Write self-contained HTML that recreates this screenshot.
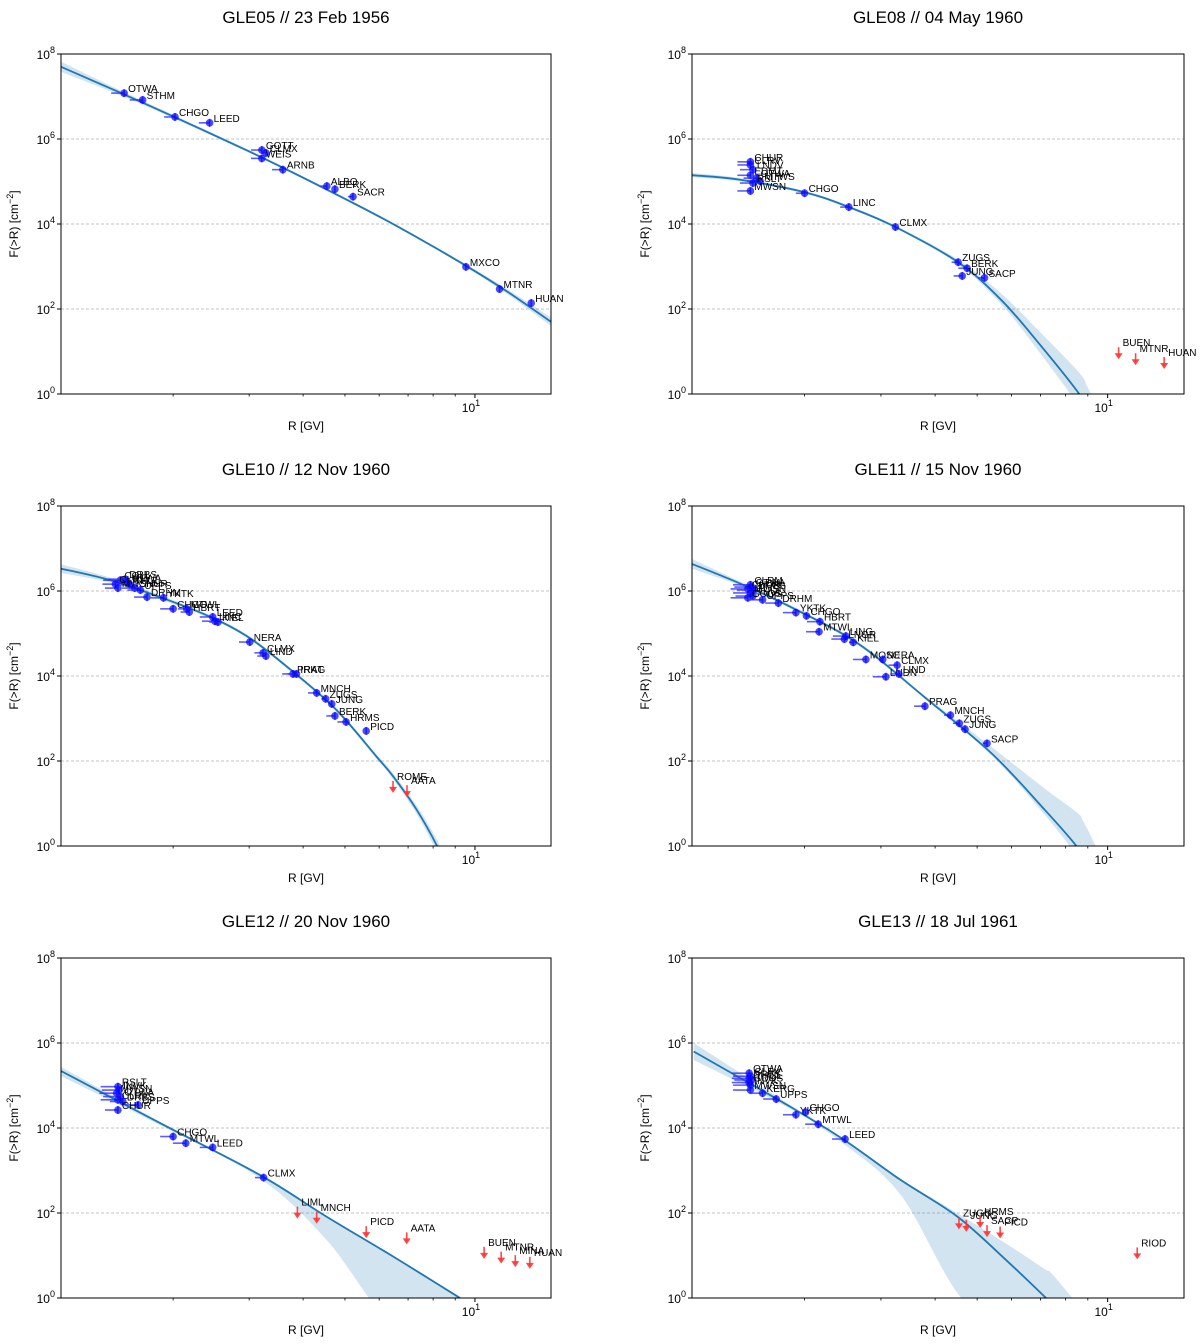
<!DOCTYPE html>
<html><head><meta charset="utf-8">
<style>
html,body{margin:0;padding:0;background:#fff;width:1200px;height:1344px;overflow:hidden;}
svg{display:block;}
svg text{font-family:"Liberation Sans",sans-serif;}
</style></head>
<body>
<svg id="fig" xmlns="http://www.w3.org/2000/svg" width="1200" height="1344" viewBox="0 0 1200 1344"></svg>
<script>
// ---------- Panel 1: GLE05 ----------
const p1Names = ["OTWA","STHM","CHGO","LEED","GOTT","CLMX","WEIS","ARNB","ALBQ","BERK","SACR","MXCO","MTNR","HUAN"];
const p1R = [1.54,1.70,2.02,2.43,3.21,3.28,3.21,3.59,4.54,4.74,5.22,9.53,11.4,13.5];
const p1F = [1.2e7,8.3e6,3.3e6,2.4e6,5.5e5,4.7e5,3.5e5,1.9e5,7.8e4,6.6e4,4.4e4,980,295,138];
const p1Xerr = [0.03,0.03,0.025,0.025,0.025,0.01,0.025,0.025,0.015,0,0.012,0,0,0];
const p1LimNames = [];
const p1LimR = [];
const p1LimF = [];
const p1CurveR = [1.1,1.5,2,3,4,6,8,10,12,15];
const p1CurveF = [5.0e7,1.26e7,3.4e6,5.1e5,1.23e5,1.5e4,2950,776,240,50];
const p1BandLo = [0.12,0.06,0.04,0.03,0.03,0.03,0.03,0.04,0.06,0.1];
const p1BandHi = [0.12,0.06,0.04,0.03,0.03,0.03,0.03,0.04,0.06,0.1];

// ---------- Panel 2: GLE08 ----------
const p2Names = ["CHUR","CLRV","LNDV","EDMT","OTWA","MTWS","RSLT","MWSN","CHGO","LINC","CLMX","ZUGS","BERK","JUNG","SACP"];
const p2R = [1.5,1.5,1.52,1.5,1.55,1.58,1.52,1.5,2.0,2.53,3.24,4.52,4.74,4.62,5.2];
const p2F = [2.9e5,2.45e5,1.9e5,1.4e5,1.2e5,1.02e5,9.2e4,6.0e4,5.3e4,2.5e4,8.5e3,1.26e3,910,600,540];
const p2Xerr = [0.03,0.03,0.03,0.03,0.03,0.03,0.03,0.03,0.02,0.02,0,0.015,0.02,0.02,0.015];
const p2LimNames = ["BUEN","MTNR","HUAN"];
const p2LimR = [10.6,11.6,13.5];
const p2LimF = [12.6,9.1,7.4];
const p2CurveR = [1.1,1.42,2.0,2.53,3.24,4.52,5.7,7.0,8.6,9.0,9.8];
const p2CurveF = [1.41e5,1.1e5,5.6e4,2.5e4,8.5e3,1.26e3,158,14,1,0.4,0.05];
const p2BandLo = [0.05,0.04,0.03,0.03,0.03,0.05,0.1,0.2,0.3,0.35,0.4];
const p2BandHi = [0.05,0.04,0.03,0.03,0.03,0.06,0.15,0.3,0.5,0.55,0.7];

// ---------- Panel 3: GLE10 ----------
const p3Names = ["COLL","DRBS","OTWA","CLRV","THUL","MWSN","CHUR","UPPS","DRHM","YKTK","CHGO","MTWL","HBRT","LEED","LINC","KIEL","NERA","CLMX","LIND","PRAG","IRKT","MNCH","ZUGS","JUNG","BERK","HRMS","PICD"];
const p3R = [1.51,1.55,1.57,1.47,1.59,1.49,1.63,1.68,1.74,1.90,2.0,2.15,2.18,2.47,2.50,2.54,3.01,3.23,3.28,3.79,3.86,4.30,4.51,4.66,4.74,5.03,5.6];
const p3F = [1.8e6,1.9e6,1.6e6,1.45e6,1.4e6,1.17e6,1.17e6,1.05e6,7.2e5,6.9e5,3.8e5,3.8e5,3.2e5,2.45e5,1.95e5,1.86e5,6.3e4,3.5e4,2.95e4,1.12e4,1.12e4,4.0e3,2.9e3,2.2e3,1.15e3,830,510];
const p3Xerr = [0.04,0.04,0.03,0.03,0.03,0.03,0.03,0.03,0.03,0.03,0.03,0.02,0.02,0.03,0.03,0.02,0.025,0.02,0.02,0.025,0.02,0.02,0.01,0,0.02,0.02,0];
const p3LimNames = ["ROME","AATA"];
const p3LimR = [6.46,6.96];
const p3LimF = [34,27];
const p3CurveR = [1.094,1.43,1.87,2.43,3.01,3.79,4.78,5.92,6.47,7.33,8.17,8.53,9.0];
const p3CurveF = [3.4e6,1.8e6,7.1e5,2.5e5,7.8e4,1.26e4,1580,126,43,7.1,1,0.34,0.06];
const p3BandLo = [0.1,0.06,0.05,0.04,0.04,0.04,0.04,0.05,0.07,0.1,0.15,0.15,0.2];
const p3BandHi = [0.1,0.06,0.05,0.04,0.04,0.04,0.04,0.05,0.07,0.1,0.15,0.15,0.2];

// ---------- Panel 4: GLE11 ----------
const p4Names = ["CLRM","OTWA","CHUR","DRBS","MWSN","THUL","GOOS","UPPS","DRHM","YKTK","CHGO","HBRT","MTWL","LING","LNGR","KIEL","MOSC","NERA","CLMX","LNDN","LIND","PRAG","MNCH","ZUGS","JUNG","SACP"];
const p4R = [1.50,1.51,1.48,1.53,1.50,1.52,1.48,1.60,1.74,1.91,2.02,2.17,2.16,2.49,2.47,2.59,2.77,3.03,3.27,3.08,3.30,3.79,4.34,4.55,4.69,5.27];
const p4F = [1.4e6,1.24e6,1.12e6,1.05e6,9.0e5,7.6e5,6.9e5,6.2e5,5.2e5,3.1e5,2.6e5,1.9e5,1.1e5,8.7e4,7.4e4,6.2e4,2.45e4,2.45e4,1.8e4,9.6e3,1.12e4,1.95e3,1.2e3,770,560,260];
const p4Xerr = [0.04,0.04,0.04,0.04,0.04,0.04,0.04,0.03,0.03,0.03,0,0.03,0.03,0.03,0.03,0.01,0.03,0.01,0.02,0.03,0.02,0.025,0.015,0.015,0.01,0.01];
const p4LimNames = [];
const p4LimR = [];
const p4LimF = [];
const p4CurveR = [1.09,1.42,1.85,2.65,3.78,5.40,7.16,8.47,8.8,9.6];
const p4CurveF = [4.5e6,1.5e6,4.3e5,5.9e4,3.2e3,151,7.1,1,0.47,0.05];
const p4BandLo = [0.12,0.05,0.04,0.04,0.04,0.05,0.12,0.22,0.25,0.3];
const p4BandHi = [0.12,0.05,0.04,0.04,0.04,0.15,0.5,0.8,0.9,1.1];

// ---------- Panel 5: GLE12 ----------
const p5Names = ["RSLT","INVK","MWSN","OTWA","CLRV","DRBS","UPPS","CHUR","CHGO","MTWL","LEED","CLMX"];
const p5R = [1.49,1.50,1.48,1.51,1.49,1.53,1.66,1.49,2.0,2.14,2.47,3.24];
const p5F = [9.4e4,7.8e4,6.6e4,5.5e4,4.6e4,4.2e4,3.5e4,2.65e4,6.3e3,4.4e3,3.5e3,680];
const p5Xerr = [0.04,0.04,0.04,0.04,0.04,0.03,0.03,0.03,0.03,0.03,0.03,0.02];
const p5LimNames = ["LIML","MNCH","PICD","AATA","BUEN","MTNR","MINA","HUAN"];
const p5LimR = [3.88,4.30,5.60,6.95,10.5,11.5,12.4,13.4];
const p5LimF = [141,107,49,35,16,12.3,10.2,9.3];
const p5CurveR = [1.09,1.87,3.18,4.54,6.47,9.23,9.75,10.5];
const p5CurveF = [2.3e5,1.29e4,780,81,9.4,1,0.7,0.3];
const p5BandLo = [0.12,0.05,0.08,0.55,1.6,3,3,3];
const p5BandHi = [0.1,0.03,0.03,0.02,0.02,0.02,0.02,0.02];

// ---------- Panel 6: GLE13 ----------
const p6Names = ["OTWA","CLRV","DRBS","THUL","GOOS","INVK","MWSN","KERG","UPPS","YKTK","CHGO","MTWL","LEED"];
const p6R = [1.49,1.50,1.49,1.51,1.49,1.50,1.50,1.60,1.72,1.91,2.01,2.15,2.48];
const p6F = [1.95e5,1.66e5,1.48e5,1.35e5,1.17e5,1.02e5,7.8e4,6.6e4,4.8e4,2.05e4,2.35e4,1.23e4,5.5e3];
const p6Xerr = [0.04,0.04,0.04,0.04,0.04,0.04,0.04,0.03,0.03,0.03,0,0.03,0.03];
const p6LimNames = ["ZUGS","JUNG","HRMS","SACP","PICD","RIOD"];
const p6LimR = [4.54,4.72,5.08,5.27,5.65,11.7];
const p6LimF = [79,69,85,52,48,15.5];
const p6CurveR = [1.11,1.85,2.47,3.33,4.51,5.89,7.16,7.43,8.6];
const p6CurveF = [6.3e5,3.2e4,5.2e3,600,81,7.1,1.07,0.75,0.08];
const p6BandLo = [0.2,0.05,0.1,0.35,1.8,3,4,4,4];
const p6BandHi = [0.2,0.04,0.03,0.03,0.08,0.4,0.65,0.7,0.9];

const panelTitles = ["GLE05 // 23 Feb 1956","GLE08 // 04 May 1960","GLE10 // 12 Nov 1960","GLE11 // 15 Nov 1960","GLE12 // 20 Nov 1960","GLE13 // 18 Jul 1961"];
const yTickExps = [0,2,4,6,8];
const xMinorTicks = [2,3,4,5,6,7,8,9];
const xMajorTicks = [10];

const NS = "http://www.w3.org/2000/svg";
const svg = document.getElementById('fig');
const RMIN = 1.1, RMAX = 15, FMINE = 0, FMAXE = 8;

function mk(tag, attrs, parent){
  const e = document.createElementNS(NS, tag);
  for (const k in attrs) e.setAttribute(k, attrs[k]);
  (parent||svg).appendChild(e);
  return e;
}
function lg(v){ return Math.log10(v); }

function spline(pts){
  if (pts.length < 2) return "";
  let d = "M" + pts[0][0].toFixed(2) + "," + pts[0][1].toFixed(2);
  for (let i = 0; i < pts.length - 1; i++){
    const p0 = pts[Math.max(0,i-1)], p1 = pts[i], p2 = pts[i+1], p3 = pts[Math.min(pts.length-1,i+2)];
    const c1x = p1[0] + (p2[0]-p0[0])/6, c1y = p1[1] + (p2[1]-p0[1])/6;
    const c2x = p2[0] - (p3[0]-p1[0])/6, c2y = p2[1] - (p3[1]-p1[1])/6;
    d += " C" + c1x.toFixed(2)+","+c1y.toFixed(2)+" "+c2x.toFixed(2)+","+c2y.toFixed(2)+" "+p2[0].toFixed(2)+","+p2[1].toFixed(2);
  }
  return d;
}

function drawPanel(idx, L, T, W, H, names, R, F, xerr, limN, limR, limF, cR, cF, bLo, bHi){
  const g = mk('g', {});
  
  
  const B = T + H;
  const xs = r => L + (lg(r) - lg(RMIN)) / (lg(RMAX) - lg(RMIN)) * W;
  const ys = f => B - (lg(f) - FMINE) / (FMAXE - FMINE) * H;
  const yc = f => Math.min(ys(f), B + 40);

  const cid = 'clip' + idx;
  const defs = mk('defs', {}, g);
  const cp = mk('clipPath', {id: cid}, defs);
  mk('rect', {x: L, y: T, width: W, height: H}, cp);

  yTickExps.forEach(e => {
    if (e === FMINE) return;
    const gl = mk('line', {x1: L, x2: L+W, y1: ys(Math.pow(10,e)), y2: ys(Math.pow(10,e)), stroke: '#b0b0b0', 'stroke-width': 0.8, 'stroke-dasharray': '3,2'}, g);
    
    
  });

  const upper = cR.map((r,i) => [xs(r), yc(cF[i]*Math.pow(10, bHi[i]))]);
  const lower = cR.map((r,i) => [xs(r), yc(cF[i]/Math.pow(10, bLo[i]))]).reverse();
  let dBand = spline(upper) + " L" + lower[0][0].toFixed(2) + "," + lower[0][1].toFixed(2) + spline(lower).replace(/^M[^C]*/, " ") + " Z";
  const band = mk('path', {d: dBand, fill: '#1f77b4', 'fill-opacity': 0.2, stroke: 'none', 'clip-path': 'url(#'+cid+')'}, g);
  
  

  const cpts = cR.map((r,i) => [xs(r), yc(cF[i])]);
  const curve = mk('path', {d: spline(cpts), fill: 'none', stroke: '#1f77b4', 'stroke-width': 1.8, 'clip-path': 'url(#'+cid+')'}, g);
  
  

  names.forEach((n,i) => {
    const px = xs(R[i]), py = ys(F[i]);
    const pg = mk('g', {}, g);
    
    
    if (xerr[i] > 0){
      mk('line', {x1: xs(R[i]/Math.pow(10,xerr[i])), x2: px, y1: py, y2: py, stroke: '#3333ff', 'stroke-width': 1.6, 'stroke-opacity': 0.8}, pg);
    }
    mk('line', {x1: px, x2: px, y1: py-4, y2: py+4, stroke: '#3333ff', 'stroke-width': 1.6, 'stroke-opacity': 0.8}, pg);
    mk('circle', {cx: px, cy: py, r: 3.8, fill: '#0000ff', 'fill-opacity': 0.7}, pg);
    const t = mk('text', {x: px+4, y: py-1, 'font-size': 10, fill: '#000'}, pg);
    t.textContent = n;
  });

  limN.forEach((n,i) => {
    const px = xs(limR[i]), py = ys(limF[i]);
    const lgp = mk('g', {}, g);
    
    
    mk('line', {x1: px, x2: px, y1: py, y2: py+9, stroke: '#ff3333', 'stroke-width': 1.6, 'stroke-opacity': 0.9}, lgp);
    mk('path', {d: 'M'+(px-4)+','+(py+6)+' L'+(px+4)+','+(py+6)+' L'+px+','+(py+12)+' Z', fill: '#ff3333', 'fill-opacity': 0.9}, lgp);
    const t = mk('text', {x: px+4, y: py-1, 'font-size': 10, fill: '#000'}, lgp);
    t.textContent = n;
  });

  const fr = mk('rect', {x: L, y: T, width: W, height: H, fill: 'none', stroke: '#000', 'stroke-width': 1}, g);
  
  

  yTickExps.forEach(e => {
    const y = ys(Math.pow(10,e));
    mk('line', {x1: L-4, x2: L, y1: y, y2: y, stroke: '#000', 'stroke-width': 1}, g);
    const t = mk('text', {x: L-6, y: y+5, 'font-size': 12, 'text-anchor': 'end', fill: '#000'}, g);
    
    
    t.appendChild(document.createTextNode('10'));
    const s = document.createElementNS(NS, 'tspan');
    s.setAttribute('dy', '-6'); s.setAttribute('font-size', '9');
    s.textContent = String(e);
    t.appendChild(s);
  });
  xMinorTicks.forEach(v => {
    const x = xs(v);
    mk('line', {x1: x, x2: x, y1: B, y2: B+2.5, stroke: '#000', 'stroke-width': 0.8}, g);
  });
  xMajorTicks.forEach(v => {
    const x = xs(v);
    mk('line', {x1: x, x2: x, y1: B, y2: B+4, stroke: '#000', 'stroke-width': 1}, g);
    const t = mk('text', {x: x-4, y: B+18, 'font-size': 12, 'text-anchor': 'middle', fill: '#000'}, g);
    
    
    t.appendChild(document.createTextNode('10'));
    const s = document.createElementNS(NS, 'tspan');
    s.setAttribute('dy', '-6'); s.setAttribute('font-size', '9');
    s.textContent = String(Math.round(lg(v)));
    t.appendChild(s);
  });

  const title = mk('text', {x: L + W/2, y: T - 31, 'font-size': 17, 'text-anchor': 'middle', fill: '#000'}, g);
  
  
  title.textContent = panelTitles[idx];
  const xl = mk('text', {x: L + W/2, y: B + 36, 'font-size': 12, 'text-anchor': 'middle', fill: '#000'}, g);
  
  
  xl.textContent = 'R [GV]';
  const cy = T + H/2, cx = L - 43;
  const yl = mk('text', {x: cx, y: cy, 'font-size': 12, 'text-anchor': 'middle', fill: '#000', transform: 'rotate(-90 '+cx+' '+cy+')'}, g);
  
  
  yl.appendChild(document.createTextNode('F(>R) [cm'));
  const ss = document.createElementNS(NS, 'tspan');
  ss.setAttribute('dy', '-5'); ss.setAttribute('font-size', '9');
  ss.textContent = '\u22122';
  yl.appendChild(ss);
  const cl = document.createElementNS(NS, 'tspan');
  cl.setAttribute('dy', '5');
  cl.textContent = ']';
  yl.appendChild(cl);
}

const rowsT = [54, 506, 958];
drawPanel(0, 61, rowsT[0], 490, 340, p1Names, p1R, p1F, p1Xerr, p1LimNames, p1LimR, p1LimF, p1CurveR, p1CurveF, p1BandLo, p1BandHi);
drawPanel(1, 692, rowsT[0], 492, 340, p2Names, p2R, p2F, p2Xerr, p2LimNames, p2LimR, p2LimF, p2CurveR, p2CurveF, p2BandLo, p2BandHi);
drawPanel(2, 61, rowsT[1], 490, 340, p3Names, p3R, p3F, p3Xerr, p3LimNames, p3LimR, p3LimF, p3CurveR, p3CurveF, p3BandLo, p3BandHi);
drawPanel(3, 692, rowsT[1], 492, 340, p4Names, p4R, p4F, p4Xerr, p4LimNames, p4LimR, p4LimF, p4CurveR, p4CurveF, p4BandLo, p4BandHi);
drawPanel(4, 61, rowsT[2], 490, 340, p5Names, p5R, p5F, p5Xerr, p5LimNames, p5LimR, p5LimF, p5CurveR, p5CurveF, p5BandLo, p5BandHi);
drawPanel(5, 692, rowsT[2], 492, 340, p6Names, p6R, p6F, p6Xerr, p6LimNames, p6LimR, p6LimF, p6CurveR, p6CurveF, p6BandLo, p6BandHi);
</script>
</body></html>
